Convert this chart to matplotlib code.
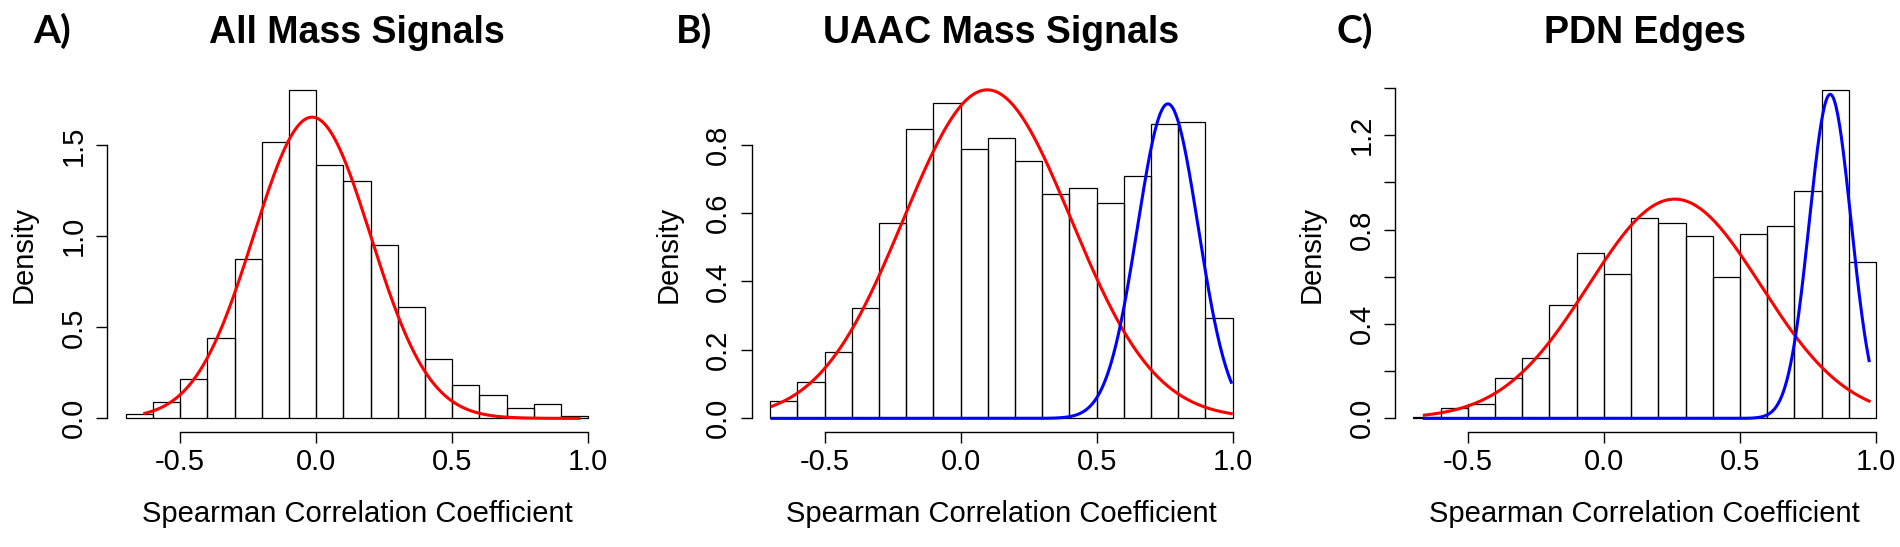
import numpy as np
import matplotlib.pyplot as plt

plt.rcParams['font.family'] = ['Liberation Sans', 'DejaVu Sans']

# histogram bins (same for all panels)
bin_edges = [-0.7, -0.6, -0.5, -0.4, -0.3, -0.2, -0.1, 0.0, 0.1, 0.2,
             0.3, 0.4, 0.5, 0.6, 0.7, 0.8, 0.9, 1.0]

# densities
dens_all = [0.022, 0.091, 0.216, 0.440, 0.873, 1.520, 1.805, 1.394, 1.303,
            0.954, 0.614, 0.326, 0.181, 0.129, 0.056, 0.077, 0.015]
dens_uaac = [0.052, 0.106, 0.193, 0.323, 0.570, 0.845, 0.921, 0.786, 0.818,
             0.753, 0.656, 0.672, 0.629, 0.709, 0.860, 0.867, 0.292]
dens_pdn = [0.005, 0.044, 0.060, 0.170, 0.257, 0.479, 0.699, 0.612, 0.851,
            0.827, 0.773, 0.597, 0.782, 0.814, 0.962, 1.392, 0.661]

# fitted normal components: (mean, sd, peak height, colour)
fit_all = [(-0.015, 0.215, 1.655, 'red')]
fit_uaac = [(0.098, 0.308, 0.960, 'red'), (0.762, 0.112, 0.919, 'blue')]
fit_pdn = [(0.260, 0.317, 0.929, 'red'), (0.832, 0.077, 1.373, 'blue')]

# range of x over which the fitted curves are drawn
range_all = (-0.63, 0.966)
range_uaac = (-0.693, 0.995)
range_pdn = (-0.66, 0.975)

titles = ['All Mass Signals', 'UAAC Mass Signals', 'PDN Edges']
panel_tags = ['A)', 'B)', 'C)']

yticks_all = [0.0, 0.5, 1.0, 1.5]
ylabels_all = ['0.0', '0.5', '1.0', '1.5']
yticks_uaac = [0.0, 0.2, 0.4, 0.6, 0.8]
ylabels_uaac = ['0.0', '0.2', '0.4', '0.6', '0.8']
yticks_pdn = [0.0, 0.2, 0.4, 0.6, 0.8, 1.0, 1.2, 1.4]
ylabels_pdn = ['0.0', '', '0.4', '', '0.8', '', '1.2', '']

xticks = [-0.5, 0.0, 0.5, 1.0]
xlabels = ['-0.5', '0.0', '0.5', '1.0']

W, H = 1900, 547
fig = plt.figure(figsize=(W / 100, H / 100), dpi=100)

ax_left_px = [107.3, 751.7, 1395.0]
tag_left_px = [33, 676, 1336]
ax_w = 499.4 / W
ax_b = 1 - 431.5 / H
ax_h = 354.8 / H

panels = [
    (dens_all, fit_all, range_all, yticks_all, ylabels_all),
    (dens_uaac, fit_uaac, range_uaac, yticks_uaac, ylabels_uaac),
    (dens_pdn, fit_pdn, range_pdn, yticks_pdn, ylabels_pdn),
]

for i, (dens, fits, xr, yt, yl) in enumerate(panels):
    ax = fig.add_axes([ax_left_px[i] / W, ax_b, ax_w, ax_h])

    ax.bar(bin_edges[:-1], dens, width=0.1, align='edge', fill=False,
           edgecolor='black', linewidth=0.9)

    xs = np.linspace(xr[0], xr[1], 500)
    for mu, sd, pk, col in fits:
        ax.plot(xs, pk * np.exp(-0.5 * ((xs - mu) / sd) ** 2),
                color=col, linewidth=2.2)

    ymax = max(max(dens), max(f[2] for f in fits))
    xpad = 0.04 * (bin_edges[-1] - bin_edges[0])
    ax.set_xlim(bin_edges[0] - xpad, bin_edges[-1] + xpad)
    ax.set_ylim(-0.04 * ymax, 1.04 * ymax)

    for s in ['top', 'right']:
        ax.spines[s].set_visible(False)
    ax.spines['left'].set_bounds(yt[0], yt[-1])
    ax.spines['bottom'].set_bounds(xticks[0], xticks[-1])
    for s in ['left', 'bottom']:
        ax.spines[s].set_linewidth(1.0)

    ax.set_xticks(xticks)
    ax.set_xticklabels(xlabels)
    ax.set_yticks(yt)
    ax.set_yticklabels(yl, rotation=90, va='center')
    ax.tick_params(axis='both', length=8, width=1.0, labelsize=21)
    ax.tick_params(axis='x', pad=4)
    ax.tick_params(axis='y', pad=6)

    ax.text(0.5, -0.255, 'Spearman Correlation Coefficient', transform=ax.transAxes,
            ha='center', va='baseline', fontsize=21)
    ax.text(-0.167, 0.5, 'Density', transform=ax.transAxes, rotation=90,
            ha='center', va='center', fontsize=21)
    ax.text(0.5, 1.095, titles[i], transform=ax.transAxes,
            ha='center', va='baseline', fontsize=27, fontweight='bold')

    fig.text(tag_left_px[i] / W, 1 - 43 / H, panel_tags[i],
             ha='left', va='baseline', fontsize=28, fontweight='bold',
             family=['Lato', 'DejaVu Sans'])

fig.savefig('out.png', dpi=100)
